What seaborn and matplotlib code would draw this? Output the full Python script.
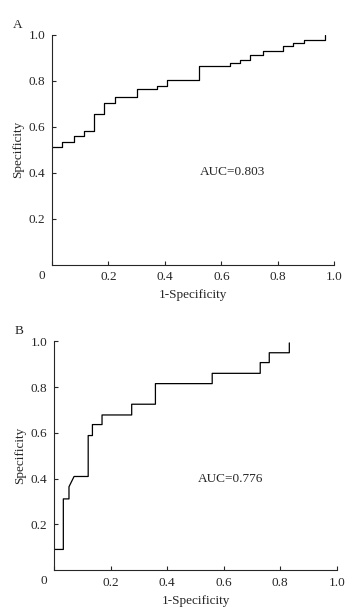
import numpy as np
import pandas as pd
import seaborn as sns
import matplotlib.pyplot as plt

# ROC points (fpr, tpr)
fpr_a = [0.0, 0.035, 0.035, 0.077, 0.077, 0.112, 0.112, 0.150, 0.150, 0.186, 0.186,
         0.224, 0.224, 0.300, 0.300, 0.372, 0.372, 0.409, 0.409, 0.521, 0.521,
         0.631, 0.631, 0.667, 0.667, 0.703, 0.703, 0.746, 0.746, 0.819, 0.819,
         0.855, 0.855, 0.893, 0.893, 0.967, 0.967]
tpr_a = [0.511, 0.511, 0.532, 0.532, 0.559, 0.559, 0.580, 0.580, 0.654, 0.654, 0.705,
         0.705, 0.728, 0.728, 0.766, 0.766, 0.778, 0.778, 0.803, 0.803, 0.864,
         0.864, 0.878, 0.878, 0.890, 0.890, 0.914, 0.914, 0.929, 0.929, 0.952,
         0.952, 0.965, 0.965, 0.977, 0.977, 1.0]

fpr_b = [0.0, 0.0, 0.032, 0.032, 0.052, 0.052, 0.070, 0.120, 0.120, 0.135, 0.135,
         0.169, 0.169, 0.274, 0.274, 0.358, 0.358, 0.559, 0.559, 0.729, 0.729,
         0.761, 0.761, 0.832, 0.832]
tpr_b = [0.0, 0.090, 0.090, 0.311, 0.311, 0.364, 0.409, 0.409, 0.588, 0.588, 0.636,
         0.636, 0.678, 0.678, 0.725, 0.725, 0.815, 0.815, 0.860, 0.860, 0.907,
         0.907, 0.950, 0.950, 0.993]

auc_a = "AUC=0.803"
auc_b = "AUC=0.776"

sns.set_style("ticks")
plt.rcParams['font.family'] = ['Liberation Serif', 'DejaVu Serif']
fs = 9.5

fig = plt.figure(figsize=(3.56, 6.13), dpi=100)
ax_a = fig.add_axes([0.146, 0.5685, 0.793, 0.3745])
ax_b = fig.add_axes([0.1525, 0.0701, 0.7935, 0.3731])

panels = [(ax_a, fpr_a, tpr_a, auc_a, (0.64, 0.404), "A"),
          (ax_b, fpr_b, tpr_b, auc_b, (0.625, 0.396), "B")]

for ax, fx, ty, txt, pos, letter in panels:
    df = pd.DataFrame({"fpr": fx, "tpr": ty})
    sns.lineplot(data=df, x="fpr", y="tpr", sort=False, estimator=None,
                 color="black", linewidth=0.9, ax=ax)
    ax.set_xlim(0, 1)
    ax.set_ylim(0, 1)
    ax.set_xticks([0, 0.2, 0.4, 0.6, 0.8, 1.0])
    ax.set_xticklabels(["", "0.2", "0.4", "0.6", "0.8", "1.0"])
    ax.set_yticks([0.2, 0.4, 0.6, 0.8, 1.0])
    ax.set_yticklabels(["0.2", "0.4", "0.6", "0.8", "1.0"])
    ax.tick_params(direction="in", length=3, width=0.8, pad=5, labelsize=fs)
    for s in ["top", "right"]:
        ax.spines[s].set_visible(False)
    for s in ["left", "bottom"]:
        ax.spines[s].set_linewidth(0.8)
    ax.set_xlabel("1-Specificity", fontsize=fs, labelpad=4)
    ax.set_ylabel("Specificity", fontsize=fs, labelpad=3)
    ax.text(pos[0], pos[1], txt, ha="center", va="center", fontsize=fs)
    ax.text(-0.037, -0.05, "0", transform=ax.transAxes, ha="center", va="center",
            fontsize=fs)
    ax.text(-0.14, 1.045, letter, transform=ax.transAxes, ha="left", va="center",
            fontsize=fs)

fig.savefig("out.png", dpi=100)
